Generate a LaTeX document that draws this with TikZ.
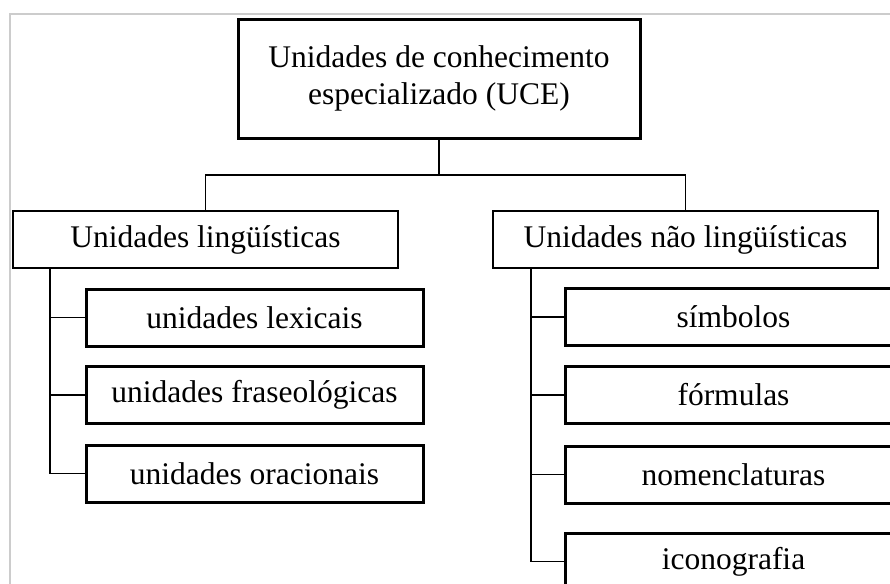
\documentclass[tikz,border=0pt]{standalone}
\usepackage{fontspec}
\setmainfont{Liberation Serif}
\begin{document}
\begin{tikzpicture}[x=0.5pt,y=-0.5pt]
            \tikzset{
                main box/.style={draw,line width=1.5pt,minimum width=201pt,minimum height=59.5pt,align=center,inner sep=0pt},
                group box/.style={draw,line width=1.4pt,minimum width=192.5pt,minimum height=28.5pt,inner sep=0pt},
                item box/.style={draw,line width=1.5pt,minimum width=168.5pt,minimum height=28.5pt,inner sep=0pt},
                link/.style={line width=0.8pt}
            }
            \clip (0,0) rectangle (890,584);
            \useasboundingbox (0,0) rectangle (890,584);
            \draw[gray!40,line width=1pt] (9.5,14) rectangle (900,600);
            \fontsize{15.75}{18.5}\selectfont
            \node[main box] (uce) at (439,78.5) {Unidades de conhecimento\\especializado (UCE)};
            \node[group box] (ling) at (205.5,239.5) {Unidades lingüísticas};
            \node[group box] (naoling) at (685.5,239.5) {Unidades não lingüísticas};
            % unidades linguisticas
            \node[item box] (lex) at (254.5,317.5) {unidades lexicais};
            \node[item box] (fras) at (254.5,395) {unidades fraseológicas};
            \node[item box] (orac) at (254.5,473.5) {unidades oracionais};
            % unidades nao linguisticas
            \node[item box] (simb) at (733.5,317) {símbolos};
            \node[item box] (form) at (733.5,395) {fórmulas};
            \node[item box] (nomen) at (733.5,474.5) {nomenclaturas};
            \node[item box] (icon) at (733.5,561.5) {iconografia};
            \coordinate (fork) at (0,175);
            \coordinate (trunkL) at (50,0);
            \coordinate (trunkR) at (531,0);
            \draw[link] (uce.south) -- (uce.south |- fork);
            \draw[link] (ling.north) -- (ling.north |- fork) -- (naoling.north |- fork) -- (naoling.north);
            \draw[link] (ling.south -| trunkL) -- (orac.west -| trunkL) -- (orac.west);
            \draw[link] (lex.west -| trunkL) -- (lex.west);
            \draw[link] (fras.west -| trunkL) -- (fras.west);
            \draw[link] (naoling.south -| trunkR) -- (icon.west -| trunkR) -- (icon.west);
            \draw[link] (simb.west -| trunkR) -- (simb.west);
            \draw[link] (form.west -| trunkR) -- (form.west);
            \draw[link] (nomen.west -| trunkR) -- (nomen.west);
        \end{tikzpicture}
\end{document}
